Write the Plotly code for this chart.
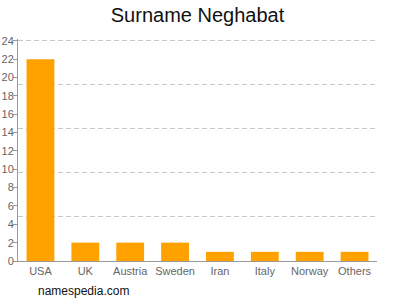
import plotly.graph_objects as go

categories = ["USA", "UK", "Austria", "Sweden", "Iran", "Italy", "Norway", "Others"]
counts = [22, 2, 2, 2, 1, 1, 1, 1]
y_ticks = list(range(0, 25, 2))
grid_vals = [4.8, 9.6, 14.4, 19.2, 24]

fig = go.Figure()
fig.add_trace(go.Bar(x=categories, y=counts, marker_color="#ffa200",
                     marker_line_width=0, width=0.62))
# invisible trace to carry the grid axis
fig.add_trace(go.Scatter(x=categories[:1], y=[0], yaxis="y2", mode="markers",
                         marker_opacity=0, showlegend=False, hoverinfo="skip"))

fig.update_layout(
    width=400, height=300,
    margin=dict(l=17.5, r=22.5, t=39, b=39),
    plot_bgcolor="white", paper_bgcolor="white",
    showlegend=False,
    font=dict(family="Liberation Sans, Arial, sans-serif", color="#555", size=11),
    title=dict(text="Surname Neghabat", xref="paper", x=0.5, xanchor="center",
               y=0.95, yanchor="middle", font=dict(size=20, color="#111")),
    xaxis=dict(showline=True, linecolor="#999", linewidth=1, ticks="",
               tickfont=dict(size=11, color="#666"), showgrid=False, automargin=False,
               range=[-0.5, 7.5]),
    yaxis=dict(range=[0, 24.2], tickvals=y_ticks, showline=True, linecolor="#999",
               linewidth=1, ticks="outside", ticklen=4, tickcolor="#999",
               showgrid=False, zeroline=False, tickfont=dict(size=11, color="#666"),
               automargin=False, ticklabelstandoff=-3),
    yaxis2=dict(range=[0, 24.2], overlaying="y", tickvals=grid_vals, showticklabels=False,
                showgrid=True, gridcolor="#c8c8c8", griddash="5px,3px", gridwidth=1,
                zeroline=False, showline=False, automargin=False),
    annotations=[dict(text="namespedia.com", xref="paper", yref="paper", x=0.05, y=-0.136,
                      xanchor="left", yanchor="middle", showarrow=False,
                      font=dict(size=12, color="#111"))],
)
fig.write_html("out.html")
